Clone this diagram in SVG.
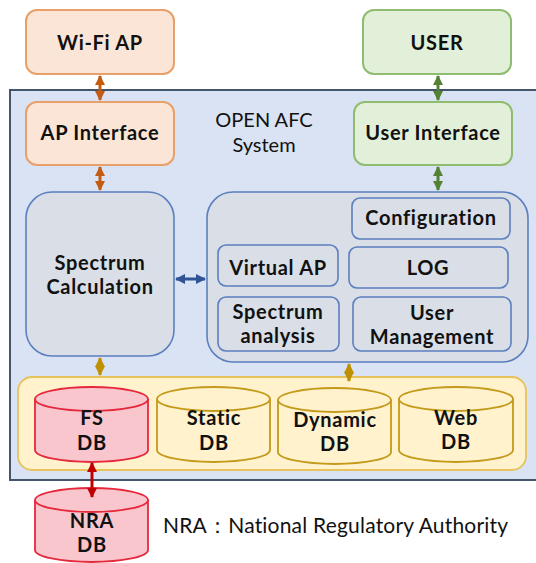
<svg xmlns="http://www.w3.org/2000/svg" width="536" height="563" viewBox="0 0 536 563">
<defs>
<style>
text{font-family:Lato,"Open Sans","DejaVu Sans",sans-serif;fill:#111;text-anchor:middle}
.lbl{font-size:20px;font-weight:700;letter-spacing:0.7px}
.reg{font-size:20px;font-weight:400}
.peach{fill:#fbe5d6;stroke:#e8a06a;stroke-width:2}
.green{fill:#e2f0d9;stroke:#8fbc6f;stroke-width:2}
.gray{fill:#d9dee7;stroke:#5b7fbf;stroke-width:1.6}
.ycyl{fill:#fff2cc;stroke:#c49a1a;stroke-width:1.8}
.rcyl{fill:#f9c6cd;stroke:#e6283c;stroke-width:1.8}
.ar{fill:none;stroke-width:3}
</style>
<marker id="mo" viewBox="0 0 10 10" refX="9" refY="5" markerWidth="3.4" markerHeight="3.4" orient="auto-start-reverse"><path d="M0,0L10,5L0,10z" fill="#c55a11"/></marker>
<marker id="mg" viewBox="0 0 10 10" refX="9" refY="5" markerWidth="3.4" markerHeight="3.4" orient="auto-start-reverse"><path d="M0,0L10,5L0,10z" fill="#548235"/></marker>
<marker id="mb" viewBox="0 0 10 10" refX="9" refY="5" markerWidth="3.4" markerHeight="3.4" orient="auto-start-reverse"><path d="M0,0L10,5L0,10z" fill="#2f5597"/></marker>
<marker id="my" viewBox="0 0 10 10" refX="9" refY="5" markerWidth="3.4" markerHeight="3.4" orient="auto-start-reverse"><path d="M0,0L10,5L0,10z" fill="#bf9000"/></marker>
<marker id="mr" viewBox="0 0 10 10" refX="9" refY="5" markerWidth="3.4" markerHeight="3.4" orient="auto-start-reverse"><path d="M0,0L10,5L0,10z" fill="#c00000"/></marker>
</defs>
<rect width="536" height="563" fill="#fff"/>

<g id="system">
<rect x="10" y="90" width="530" height="390" fill="#dae3f3" stroke="#44546a" stroke-width="2"/>
<text class="reg" x="264" y="127">OPEN AFC<tspan x="264" dy="25">System</tspan></text>
</g>

<g id="wifi-ap">
<rect class="peach" x="26" y="10" width="148" height="64" rx="11"/>
<text class="lbl" x="100" y="50">Wi-Fi AP</text>
</g>
<g id="ap-interface">
<rect class="peach" x="26" y="102" width="148" height="63" rx="11"/>
<text class="lbl" x="100" y="140">AP Interface</text>
</g>
<g id="user">
<rect class="green" x="363" y="10" width="148" height="64" rx="11"/>
<text class="lbl" x="437" y="50">USER</text>
</g>
<g id="user-interface">
<rect class="green" x="354" y="102" width="158" height="63" rx="11"/>
<text class="lbl" x="433" y="140">User Interface</text>
</g>

<g id="spectrum-calculation">
<rect class="gray" x="26" y="192" width="148" height="164" rx="26"/>
<text class="lbl" x="100" y="270">Spectrum<tspan x="100" dy="24">Calculation</tspan></text>
</g>

<g id="modules">
<rect class="gray" x="207" y="192" width="321" height="170" rx="26"/>
</g>
<g id="configuration">
<rect class="gray" x="352" y="198" width="158" height="41" rx="8"/>
<text class="lbl" x="431" y="225">Configuration</text>
</g>
<g id="virtual-ap">
<rect class="gray" x="218" y="245" width="120" height="41" rx="8"/>
<text class="lbl" x="278" y="275">Virtual AP</text>
</g>
<g id="log">
<rect class="gray" x="349" y="247" width="159" height="41" rx="8"/>
<text class="lbl" x="428" y="275">LOG</text>
</g>
<g id="spectrum-analysis">
<rect class="gray" x="218" y="297" width="121" height="54" rx="8"/>
<text class="lbl" x="278" y="319">Spectrum<tspan x="278" dy="24">analysis</tspan></text>
</g>
<g id="user-management">
<rect class="gray" x="353" y="297" width="158" height="54" rx="8"/>
<text class="lbl" x="432" y="320">User<tspan x="432" dy="24">Management</tspan></text>
</g>

<g id="db-group">
<rect x="18" y="377" width="508" height="93" rx="14" fill="#fff2cc" stroke="#e6c35c" stroke-width="1.8"/>
</g>
<g id="fs-db">
<path class="rcyl" d="M35,399 L35,450 A56.5,12 0 0 0 148,450 L148,399"/>
<ellipse class="rcyl" cx="91.5" cy="399" rx="56.5" ry="12"/>
<text class="lbl" x="92" y="425">FS<tspan x="92" dy="25">DB</tspan></text>
</g>
<g id="static-db">
<path class="ycyl" d="M157,399 L157,450 A56.5,12 0 0 0 270,450 L270,399"/>
<ellipse class="ycyl" cx="213.5" cy="399" rx="56.5" ry="12"/>
<text class="lbl" x="214" y="425">Static<tspan x="214" dy="25">DB</tspan></text>
</g>
<g id="dynamic-db">
<path class="ycyl" d="M278,400 L278,452 A56.5,12 0 0 0 391,452 L391,400"/>
<ellipse class="ycyl" cx="334.5" cy="400" rx="56.5" ry="12"/>
<text class="lbl" x="335" y="427">Dynamic<tspan x="335" dy="24">DB</tspan></text>
</g>
<g id="web-db">
<path class="ycyl" d="M399,399 L399,450 A57,12 0 0 0 513,450 L513,399"/>
<ellipse class="ycyl" cx="456" cy="399" rx="57" ry="12"/>
<text class="lbl" x="456" y="425">Web<tspan x="456" dy="24">DB</tspan></text>
</g>
<g id="nra-db">
<path class="rcyl" d="M35,500 L35,550 A56.5,12 0 0 0 148,550 L148,500"/>
<ellipse class="rcyl" cx="91.5" cy="500" rx="56.5" ry="12"/>
<text class="lbl" x="92" y="528">NRA<tspan x="92" dy="24">DB</tspan></text>
</g>

<g id="legend">
<text class="reg" x="163" y="533" style="text-anchor:start;font-size:21px;letter-spacing:0.2px">NRA：National Regulatory Authority</text>
</g>

<g id="connectors">
<line class="ar" x1="100" y1="76" x2="100" y2="100" stroke="#c55a11" marker-start="url(#mo)" marker-end="url(#mo)"/>
<line class="ar" x1="100" y1="167" x2="100" y2="190" stroke="#c55a11" marker-start="url(#mo)" marker-end="url(#mo)"/>
<line class="ar" x1="438" y1="76" x2="438" y2="100" stroke="#548235" marker-start="url(#mg)" marker-end="url(#mg)"/>
<line class="ar" x1="438" y1="167" x2="438" y2="190" stroke="#548235" marker-start="url(#mg)" marker-end="url(#mg)"/>
<line class="ar" x1="176" y1="279" x2="205" y2="279" stroke="#2f5597" marker-start="url(#mb)" marker-end="url(#mb)"/>
<line class="ar" x1="100" y1="358" x2="100" y2="375" stroke="#bf9000" marker-start="url(#my)" marker-end="url(#my)"/>
<line class="ar" x1="349" y1="364" x2="349" y2="381" stroke="#bf9000" marker-start="url(#my)" marker-end="url(#my)"/>
<line class="ar" x1="92" y1="463" x2="92" y2="497" stroke="#c00000" marker-start="url(#mr)" marker-end="url(#mr)"/>
</g>
</svg>
